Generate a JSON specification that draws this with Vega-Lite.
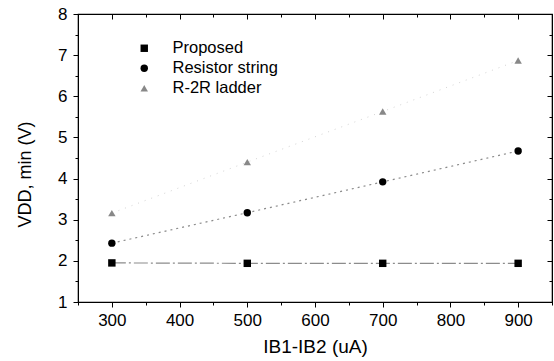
{
  "$schema": "https://vega.github.io/schema/vega-lite/v6.json",
  "width": 474,
  "height": 288,
  "autosize": "none",
  "padding": {"left": 78, "top": 14, "right": 2, "bottom": 59},
  "background": "white",
  "config": {
    "view": {"stroke": "black", "strokeWidth": 1.2},
    "font": "Liberation Sans",
    "axis": {"grid": false, "domainColor": "black", "tickColor": "black", "labelColor": "black", "titleColor": "black", "labelFont": "Liberation Sans", "titleFont": "Liberation Sans", "labelFontSize": 17, "titleFontSize": 18, "titleFontWeight": "normal"},
    "legend": {"labelFontSize": 16.5, "labelFont": "Liberation Sans", "labelColor": "black"}
  },
  "data": {"values": [
    {"series": "Proposed", "ib": 300, "vdd": 1.95},
    {"series": "Proposed", "ib": 500, "vdd": 1.94},
    {"series": "Proposed", "ib": 700, "vdd": 1.94},
    {"series": "Proposed", "ib": 900, "vdd": 1.94},
    {"series": "Resistor string", "ib": 300, "vdd": 2.43},
    {"series": "Resistor string", "ib": 500, "vdd": 3.17},
    {"series": "Resistor string", "ib": 700, "vdd": 3.92},
    {"series": "Resistor string", "ib": 900, "vdd": 4.67},
    {"series": "R-2R ladder", "ib": 300, "vdd": 3.16},
    {"series": "R-2R ladder", "ib": 500, "vdd": 4.4},
    {"series": "R-2R ladder", "ib": 700, "vdd": 5.63},
    {"series": "R-2R ladder", "ib": 900, "vdd": 6.87}
  ]},
  "resolve": {"axis": {"x": "independent", "y": "independent"}},
  "layer": [
    {
      "transform": [{"filter": "datum.series === 'Proposed'"}],
      "mark": {"type": "line", "strokeWidth": 1.2, "stroke": "#8c8c8c", "strokeDash": [14, 3, 2, 3]},
      "encoding": {
        "x": {"field": "ib", "type": "quantitative", "scale": {"domain": [250, 950], "nice": false, "zero": false},
          "axis": {"orient": "bottom", "title": "IB1-IB2 (uA)", "titleFontSize": 19, "titlePadding": 9,
            "values": [250, 300, 350, 400, 450, 500, 550, 600, 650, 700, 750, 800, 850, 900, 950],
            "labelExpr": "datum.value % 100 === 0 ? format(datum.value, 'd') : ''",
            "tickSize": {"condition": {"test": "datum.value % 100 === 0", "value": 5}, "value": 3},
            "labelPadding": 5, "labelFlush": false}},
        "y": {"field": "vdd", "type": "quantitative", "scale": {"domain": [1, 8], "nice": false, "zero": false},
          "axis": {"orient": "left", "title": "VDD, min (V)", "titlePadding": 23, "titleY": 160,
            "values": [1, 1.5, 2, 2.5, 3, 3.5, 4, 4.5, 5, 5.5, 6, 6.5, 7, 7.5, 8],
            "labelExpr": "datum.value % 1 === 0 ? format(datum.value, 'd') : ''",
            "tickSize": {"condition": {"test": "datum.value % 1 === 0", "value": 5}, "value": 3},
            "labelPadding": 6, "labelFlush": false}}
      }
    },
    {
      "transform": [{"filter": "datum.series === 'Resistor string'"}],
      "mark": {"type": "line", "strokeWidth": 1.2, "stroke": "#8a8a8a", "strokeDash": [2, 4]},
      "encoding": {
        "x": {"field": "ib", "type": "quantitative", "axis": null},
        "y": {"field": "vdd", "type": "quantitative", "axis": null}
      }
    },
    {
      "transform": [{"filter": "datum.series === 'R-2R ladder'"}],
      "mark": {"type": "line", "strokeWidth": 1, "stroke": "#d4d4d4", "strokeDash": [1, 6]},
      "encoding": {
        "x": {"field": "ib", "type": "quantitative", "axis": null},
        "y": {"field": "vdd", "type": "quantitative", "axis": null}
      }
    },
    {
      "mark": {"type": "point", "filled": true, "opacity": 1},
      "encoding": {
        "x": {"field": "ib", "type": "quantitative",
          "axis": {"orient": "top", "title": null, "labels": false,
            "values": [250, 300, 350, 400, 450, 500, 550, 600, 650, 700, 750, 800, 850, 900, 950],
            "tickSize": {"condition": {"test": "datum.value % 100 === 0", "value": -5}, "value": -3}}},
        "y": {"field": "vdd", "type": "quantitative",
          "axis": {"orient": "right", "title": null, "labels": false,
            "values": [1, 1.5, 2, 2.5, 3, 3.5, 4, 4.5, 5, 5.5, 6, 6.5, 7, 7.5, 8],
            "tickSize": {"condition": {"test": "datum.value % 1 === 0", "value": -5}, "value": -3}}},
        "shape": {"field": "series", "type": "nominal",
          "scale": {"domain": ["Proposed", "Resistor string", "R-2R ladder"], "range": ["square", "circle", "triangle-up"]},
          "legend": {"title": null, "orient": "none", "legendX": 58, "legendY": 26, "symbolSize": 55, "rowPadding": 3, "labelOffset": 20}},
        "fill": {"field": "series", "type": "nominal",
          "scale": {"domain": ["Proposed", "Resistor string", "R-2R ladder"], "range": ["#000000", "#000000", "#888888"]},
          "legend": {"title": null, "orient": "none", "legendX": 58, "legendY": 26, "symbolSize": 55, "rowPadding": 3, "labelOffset": 20}},
        "size": {"value": 55}
      }
    }
  ]
}
